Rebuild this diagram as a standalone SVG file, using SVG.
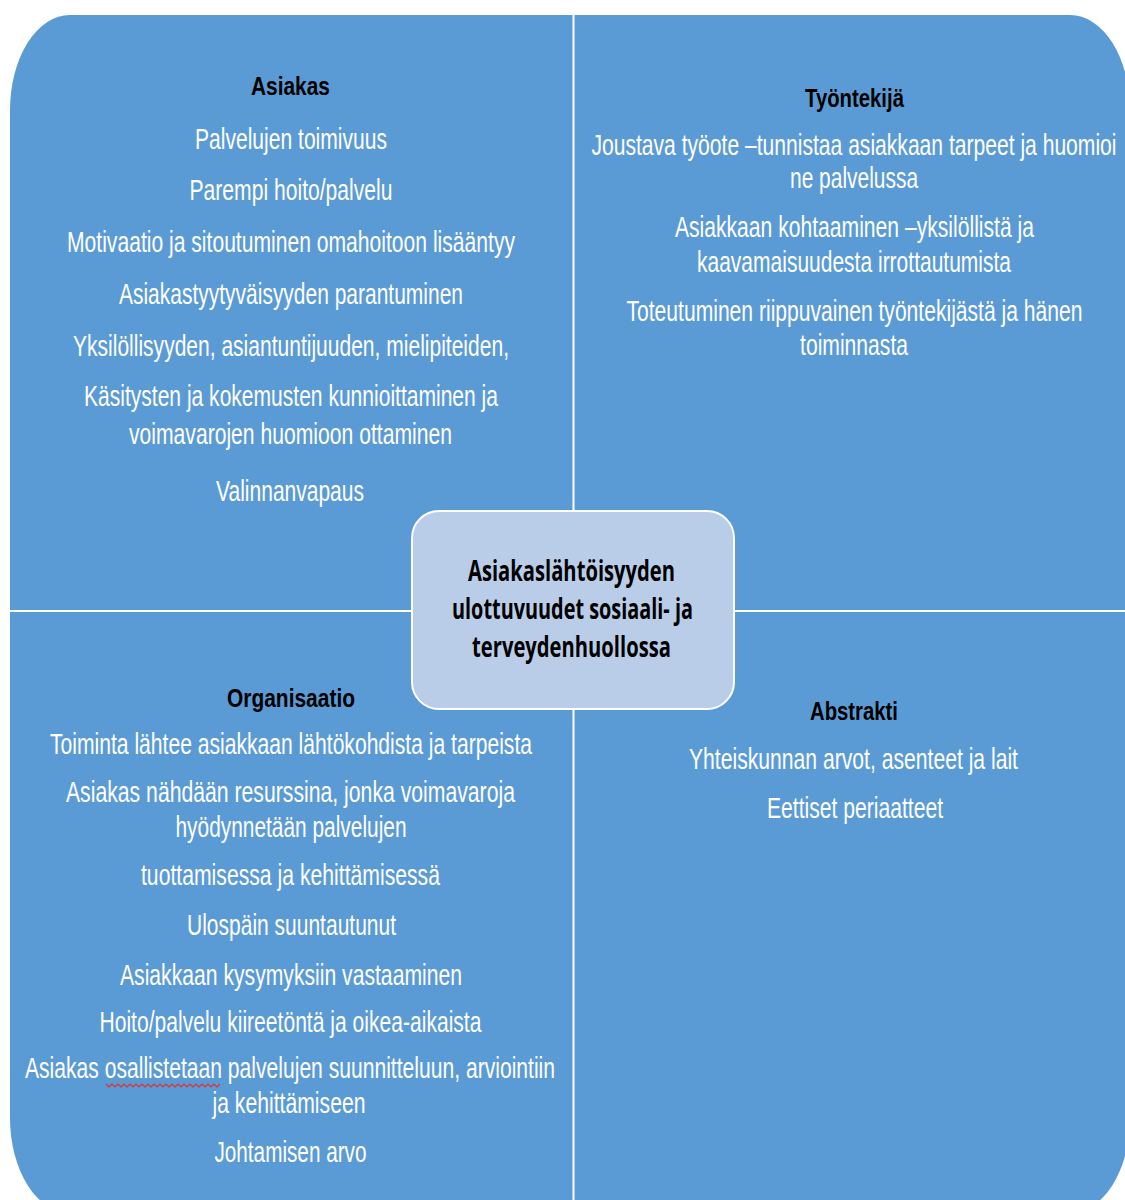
<svg xmlns="http://www.w3.org/2000/svg" width="1125" height="1200" viewBox="0 0 1125 1200">
<style>
.bg{fill:#5B9BD5;}
.div{stroke:#FFFFFF;stroke-width:2;fill:none;}
.center{fill:#B9CDE8;stroke:#FFFFFF;stroke-width:2;}
.t{font-family:"Liberation Sans",Arial,sans-serif;font-size:29px;fill:#FFFFFF;text-anchor:middle;}
.h{font-family:"Liberation Sans",Arial,sans-serif;font-size:25px;font-weight:bold;fill:#000000;text-anchor:middle;}
.c{font-family:"Open Sans","Liberation Sans",sans-serif;font-size:29px;font-weight:bold;fill:#000000;text-anchor:middle;}
</style>
<rect width="1125" height="1200" fill="#FFFFFF"/>
<rect class="bg" x="10" y="15" width="1120" height="1198" rx="60" ry="95"/>

<g id="connectors">
  <line class="div" x1="573.5" y1="15" x2="573.5" y2="1213"/>
  <line class="div" x1="10" y1="611" x2="1130" y2="611"/>
</g>

<g id="asiakas">
 <g transform="scale(0.75 1)">
  <text class="h" x="387.3" y="95" textLength="105.3" lengthAdjust="spacingAndGlyphs">Asiakas</text>
  <text class="t" x="388" y="149" textLength="256" lengthAdjust="spacingAndGlyphs">Palvelujen toimivuus</text>
  <text class="t" x="388" y="200" textLength="270.7" lengthAdjust="spacingAndGlyphs">Parempi hoito/palvelu</text>
  <text class="t" x="388" y="252" textLength="597.3" lengthAdjust="spacingAndGlyphs">Motivaatio ja sitoutuminen omahoitoon lisääntyy</text>
  <text class="t" x="388" y="304" textLength="458.7" lengthAdjust="spacingAndGlyphs">Asiakastyytyväisyyden parantuminen</text>
  <text class="t" x="388" y="356" textLength="581.3" lengthAdjust="spacingAndGlyphs">Yksilöllisyyden, asiantuntijuuden, mielipiteiden,</text>
  <text class="t" x="388" y="406" textLength="552" lengthAdjust="spacingAndGlyphs">Käsitysten ja kokemusten kunnioittaminen ja</text>
  <text class="t" x="387.3" y="444" textLength="430.7" lengthAdjust="spacingAndGlyphs">voimavarojen huomioon ottaminen</text>
  <text class="t" x="386.7" y="501" textLength="197.3" lengthAdjust="spacingAndGlyphs">Valinnanvapaus</text>
 </g>
</g>

<g id="tyontekija">
 <g transform="scale(0.72 1)">
  <text class="t" x="1186.1" y="155" textLength="729.2" lengthAdjust="spacingAndGlyphs">Joustava työote –tunnistaa asiakkaan tarpeet ja huomioi</text>
 </g>
 <g transform="scale(0.75 1)">
  <text class="h" x="1139.3" y="107" textLength="132" lengthAdjust="spacingAndGlyphs">Työntekijä</text>
  <text class="t" x="1138.7" y="188" textLength="170.7" lengthAdjust="spacingAndGlyphs">ne palvelussa</text>
  <text class="t" x="1139.3" y="237" textLength="478.7" lengthAdjust="spacingAndGlyphs">Asiakkaan kohtaaminen –yksilöllistä ja</text>
  <text class="t" x="1138.7" y="272" textLength="418.7" lengthAdjust="spacingAndGlyphs">kaavamaisuudesta irrottautumista</text>
  <text class="t" x="1139.3" y="321" textLength="608" lengthAdjust="spacingAndGlyphs">Toteutuminen riippuvainen työntekijästä ja hänen</text>
  <text class="t" x="1138.7" y="355" textLength="144" lengthAdjust="spacingAndGlyphs">toiminnasta</text>
 </g>
</g>

<g id="organisaatio">
 <g transform="scale(0.75 1)">
  <text class="h" x="388" y="707" textLength="170.7" lengthAdjust="spacingAndGlyphs">Organisaatio</text>
  <text class="t" x="388" y="754" textLength="642.7" lengthAdjust="spacingAndGlyphs">Toiminta lähtee asiakkaan lähtökohdista ja tarpeista</text>
  <text class="t" x="387.3" y="802" textLength="598.7" lengthAdjust="spacingAndGlyphs">Asiakas nähdään resurssina, jonka voimavaroja</text>
  <text class="t" x="388" y="837" textLength="308" lengthAdjust="spacingAndGlyphs">hyödynnetään palvelujen</text>
  <text class="t" x="387.3" y="885" textLength="398.7" lengthAdjust="spacingAndGlyphs">tuottamisessa ja kehittämisessä</text>
  <text class="t" x="388.7" y="935" textLength="278.7" lengthAdjust="spacingAndGlyphs">Ulospäin suuntautunut</text>
  <text class="t" x="388" y="985" textLength="456" lengthAdjust="spacingAndGlyphs">Asiakkaan kysymyksiin vastaaminen</text>
  <text class="t" x="387.3" y="1032" textLength="509.3" lengthAdjust="spacingAndGlyphs">Hoito/palvelu kiireetöntä ja oikea-aikaista</text>
  <text class="t" x="386.7" y="1078" textLength="706.7" lengthAdjust="spacingAndGlyphs">Asiakas osallistetaan palvelujen suunnitteluun, arviointiin</text>
  <text class="t" x="385.3" y="1113" textLength="204" lengthAdjust="spacingAndGlyphs">ja kehittämiseen</text>
  <text class="t" x="387.3" y="1162" textLength="202.7" lengthAdjust="spacingAndGlyphs">Johtamisen arvo</text>
 </g>
 <path d="M106,1084 l3,3 l3,-3 l3,3 l3,-3 l3,3 l3,-3 l3,3 l3,-3 l3,3 l3,-3 l3,3 l3,-3 l3,3 l3,-3 l3,3 l3,-3 l3,3 l3,-3 l3,3 l3,-3 l3,3 l3,-3 l3,3 l3,-3 l3,3 l3,-3 l3,3 l3,-3 l3,3 l3,-3 l3,3 l3,-3 l3,3 l3,-3 l3,3 l3,-3 l3,3 l3,-3" fill="none" stroke="#E0302A" stroke-width="1.2"/>
</g>

<g id="abstrakti">
 <g transform="scale(0.75 1)">
  <text class="h" x="1138.7" y="720" textLength="117.3" lengthAdjust="spacingAndGlyphs">Abstrakti</text>
  <text class="t" x="1138" y="769" textLength="438.7" lengthAdjust="spacingAndGlyphs">Yhteiskunnan arvot, asenteet ja lait</text>
  <text class="t" x="1140" y="818" textLength="234.7" lengthAdjust="spacingAndGlyphs">Eettiset periaatteet</text>
 </g>
</g>

<g id="keskus">
  <rect class="center" x="412" y="511" width="322" height="198" rx="27" ry="27"/>
  <g transform="scale(0.75 1)">
   <text class="c" x="762" y="581" textLength="276" lengthAdjust="spacingAndGlyphs">Asiakaslähtöisyyden</text>
   <text class="c" x="763.3" y="619" textLength="321.3" lengthAdjust="spacingAndGlyphs">ulottuvuudet sosiaali- ja</text>
   <text class="c" x="762" y="657" textLength="265.3" lengthAdjust="spacingAndGlyphs">terveydenhuollossa</text>
  </g>
</g>
</svg>
